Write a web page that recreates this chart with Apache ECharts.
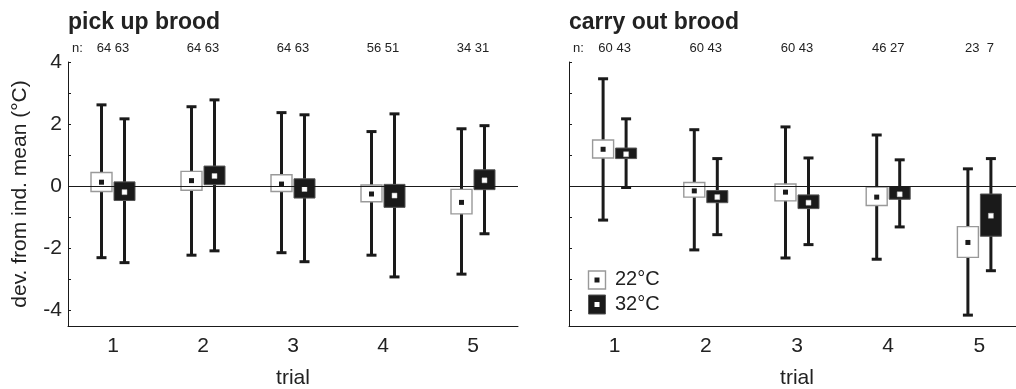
<!DOCTYPE html>
<html>
<head>
<meta charset="utf-8">
<script src="https://cdn.jsdelivr.net/npm/echarts@6/dist/echarts.min.js"></script>
<style>
html,body{margin:0;padding:0;background:#fff;}
#chart{width:1016px;height:389px;}
</style>
</head>
<body>
<div id="chart"></div>
<script>
// ---- data ----
var trials = ['1', '2', '3', '4', '5'];
var pickN = ['64 63', '64 63', '64 63', '56 51', '34 31'];
var carryN = ['60 43', '60 43', '60 43', '46 27', '23  7'];
var yTicks = [-4, -3, -2, -1, 0, 1, 2, 3, 4];
var yLabels = [-4, -2, 0, 2, 4];

// pick up brood, 22°C
var pick22WhLo = [-2.30, -2.22, -2.14, -2.22, -2.83];
var pick22BoxLo = [-0.17, -0.13, -0.17, -0.50, -0.89];
var pick22Mean = [0.13, 0.18, 0.07, -0.25, -0.52];
var pick22BoxHi = [0.44, 0.48, 0.37, 0.04, -0.10];
var pick22WhHi = [2.62, 2.56, 2.37, 1.76, 1.85];
// pick up brood, 32°C
var pick32WhLo = [-2.46, -2.08, -2.43, -2.92, -1.53];
var pick32BoxLo = [-0.46, 0.05, -0.38, -0.68, -0.11];
var pick32Mean = [-0.19, 0.33, -0.09, -0.30, 0.19];
var pick32BoxHi = [0.14, 0.65, 0.24, 0.06, 0.53];
var pick32WhHi = [2.17, 2.78, 2.30, 2.33, 1.95];
// carry out brood, 22°C
var carry22WhLo = [-1.09, -2.05, -2.31, -2.35, -4.15];
var carry22BoxLo = [0.91, -0.35, -0.47, -0.62, -2.29];
var carry22Mean = [1.19, -0.15, -0.19, -0.35, -1.81];
var carry22BoxHi = [1.49, 0.12, 0.07, -0.03, -1.30];
var carry22WhHi = [3.46, 1.82, 1.91, 1.65, 0.56];
// carry out brood, 32°C
var carry32WhLo = [-0.04, -1.56, -1.88, -1.31, -2.72];
var carry32BoxLo = [0.89, -0.53, -0.72, -0.42, -1.61];
var carry32Mean = [1.03, -0.35, -0.53, -0.26, -0.95];
var carry32BoxHi = [1.23, -0.14, -0.28, -0.01, -0.25];
var carry32WhHi = [2.17, 0.89, 0.91, 0.85, 0.89];

// ---- build ----
function rows(lo, bLo, m, bHi, hi) {
  return trials.map(function (t, i) { return [i, lo[i], bLo[i], m[i], bHi[i], hi[i]]; });
}
var INK = '#1a1a1a';
var FONT = 'Liberation Sans, Arial, sans-serif';

function makeRender(offset, filled) {
  return function (params, api) {
    var cat = api.value(0);
    var pLo = api.coord([cat, api.value(1)]);
    var bLo = api.coord([cat, api.value(2)]);
    var m = api.coord([cat, api.value(3)]);
    var bHi = api.coord([cat, api.value(4)]);
    var pHi = api.coord([cat, api.value(5)]);
    var x = pHi[0] + offset;
    var bw = 21, cw = 10, ms = 5;
    var ls = { stroke: INK, lineWidth: 3 };
    return {
      type: 'group',
      children: [
        { type: 'line', shape: { x1: x, y1: pHi[1], x2: x, y2: pLo[1] }, style: ls },
        { type: 'line', shape: { x1: x - cw / 2, y1: pHi[1], x2: x + cw / 2, y2: pHi[1] }, style: ls },
        { type: 'line', shape: { x1: x - cw / 2, y1: pLo[1], x2: x + cw / 2, y2: pLo[1] }, style: ls },
        { type: 'rect', shape: { x: x - bw / 2, y: bHi[1], width: bw, height: bLo[1] - bHi[1] },
          style: filled ? { fill: INK, stroke: '#555', lineWidth: 1 } : { fill: '#fff', stroke: '#999', lineWidth: 1.4 } },
        { type: 'rect', shape: { x: x - ms / 2, y: m[1] - ms / 2, width: ms, height: ms },
          style: filled ? { fill: '#fff', stroke: '#bbb', lineWidth: 0.5 } : { fill: INK } }
      ]
    };
  };
}

function yAxisFor(grid, showLabels) {
  return {
    type: 'value', gridIndex: grid, min: -4.5, max: 4,
    name: showLabels ? 'dev. from ind. mean (°C)' : '',
    nameLocation: 'middle', nameGap: 37,
    nameTextStyle: { fontFamily: FONT, fontSize: 21, color: '#222' },
    axisLine: { show: true, lineStyle: { color: INK, width: 1 } },
    axisTick: { show: true, inside: true, length: 3, customValues: yTicks, lineStyle: { color: INK, width: 1 } },
    axisLabel: { show: showLabels, customValues: yLabels, margin: 6, fontFamily: FONT, fontSize: 21, color: '#222' },
    splitLine: { show: false }
  };
}
function xAxisFor(grid) {
  return {
    type: 'category', gridIndex: grid, data: trials, position: 'bottom',
    name: 'trial', nameLocation: 'middle', nameGap: 42,
    nameTextStyle: { fontFamily: FONT, fontSize: 21, color: '#222' },
    axisLine: { show: true, onZero: false, lineStyle: { color: INK, width: 1 } },
    axisTick: { show: false },
    axisLabel: { margin: 10, fontFamily: FONT, fontSize: 21, color: '#222' }
  };
}
function nAxisFor(grid, labels) {
  return {
    type: 'category', gridIndex: grid, data: labels, position: 'top',
    axisLine: { show: false }, axisTick: { show: false },
    axisLabel: { margin: 7, fontFamily: FONT, fontSize: 13, color: '#222' }
  };
}
function series(xIdx, yIdx, data, offset, filled, withZero) {
  var s = {
    type: 'custom', xAxisIndex: xIdx, yAxisIndex: yIdx, data: data,
    encode: { x: 0, y: [1, 2, 3, 4, 5] },
    renderItem: makeRender(offset, filled), silent: true
  };
  if (withZero) {
    s.markLine = { silent: true, symbol: 'none', label: { show: false },
      lineStyle: { color: INK, width: 1, type: 'solid' }, data: [{ yAxis: 0 }], animation: false };
  }
  return s;
}

var option = {
  animation: false,
  backgroundColor: '#fff',
  title: [
    { text: 'pick up brood', left: 68, top: 11, padding: 0, textStyle: { fontFamily: FONT, fontSize: 23, fontWeight: 'bold', color: '#222' } },
    { text: 'carry out brood', left: 569, top: 11, padding: 0, textStyle: { fontFamily: FONT, fontSize: 23, fontWeight: 'bold', color: '#222' } }
  ],
  grid: [
    { left: 68, top: 62, width: 450, height: 264, containLabel: false, outerBoundsMode: 'none' },
    { left: 569, top: 62, width: 456, height: 264, containLabel: false, outerBoundsMode: 'none' }
  ],
  xAxis: [xAxisFor(0), xAxisFor(1), nAxisFor(0, pickN), nAxisFor(1, carryN)],
  yAxis: [yAxisFor(0, true), yAxisFor(1, false)],
  series: [
    series(0, 0, rows(pick22WhLo, pick22BoxLo, pick22Mean, pick22BoxHi, pick22WhHi), -11.5, false, true),
    series(0, 0, rows(pick32WhLo, pick32BoxLo, pick32Mean, pick32BoxHi, pick32WhHi), 11.5, true, false),
    series(1, 1, rows(carry22WhLo, carry22BoxLo, carry22Mean, carry22BoxHi, carry22WhHi), -11.5, false, true),
    series(1, 1, rows(carry32WhLo, carry32BoxLo, carry32Mean, carry32BoxHi, carry32WhHi), 11.5, true, false)
  ],
  graphic: [
    { type: 'text', left: 72, top: 42, style: { text: 'n:', fontFamily: FONT, fontSize: 13, fill: '#222' } },
    { type: 'text', left: 573, top: 42, style: { text: 'n:', fontFamily: FONT, fontSize: 13, fill: '#222' } },
    { type: 'rect', shape: { x: 588.5, y: 271, width: 17, height: 18 }, style: { fill: '#fff', stroke: '#999', lineWidth: 1.4 } },
    { type: 'rect', shape: { x: 594.5, y: 277.5, width: 5, height: 5 }, style: { fill: INK } },
    { type: 'rect', shape: { x: 588.5, y: 295, width: 17, height: 19 }, style: { fill: INK, stroke: '#555', lineWidth: 1 } },
    { type: 'rect', shape: { x: 594.5, y: 302, width: 5, height: 5 }, style: { fill: '#fff' } },
    { type: 'text', left: 615, top: 269, style: { text: '22°C', fontFamily: FONT, fontSize: 20, fill: '#222' } },
    { type: 'text', left: 615, top: 294, style: { text: '32°C', fontFamily: FONT, fontSize: 20, fill: '#222' } }
  ]
};
var chart = echarts.init(document.getElementById('chart'), null, { renderer: 'canvas' });
chart.setOption(option);
</script>
</body>
</html>
